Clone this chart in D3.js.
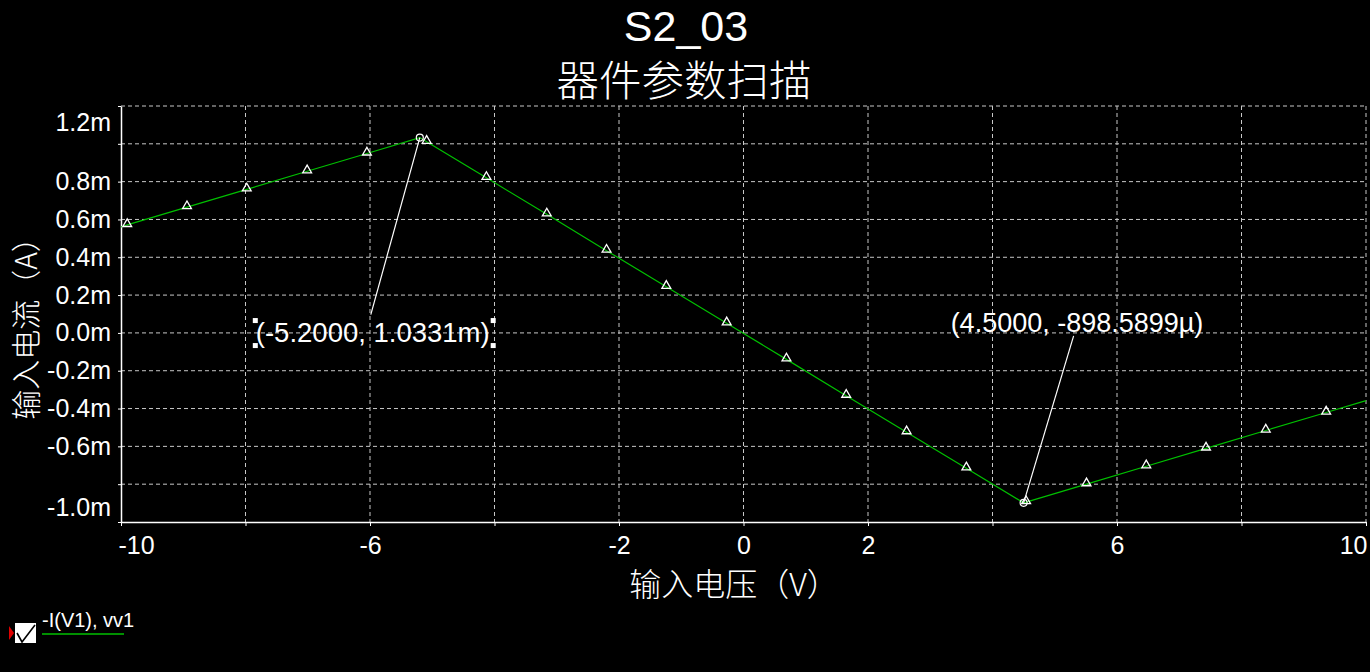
<!DOCTYPE html>
<html>
<head>
<meta charset="utf-8">
<script src="https://cdn.jsdelivr.net/npm/d3@7"></script>
<style>
  html, body { margin: 0; padding: 0; background: #000; }
  svg { display: block; }
</style>
</head>
<body>
<div id="chart"></div>
<script>
// sweep values: input voltage (V) and -I(V1) in mA
const sweepV = [-10, -9.90, -8.94, -7.98, -7.01, -6.05, -5.20, -5.09, -4.13, -3.16, -2.20, -1.24, -0.27,
                0.69, 1.65, 2.62, 3.58, 4.50, 4.54, 5.51, 6.47, 7.43, 8.39, 9.36, 10];
const sweepI = [0.560, 0.571, 0.665, 0.759, 0.855, 0.949, 1.0331, 1.011, 0.820, 0.627, 0.435, 0.244, 0.051,
                -0.140, -0.332, -0.525, -0.716, -0.8986, -0.895, -0.800, -0.705, -0.611, -0.516, -0.421, -0.358];

// triangle markers drawn on the trace
const markerV = [-9.90, -8.94, -7.98, -7.01, -6.05, -5.09, -4.13, -3.16, -2.20, -1.24, -0.27,
                 0.69, 1.65, 2.62, 3.58, 4.54, 5.51, 6.47, 7.43, 8.39, 9.36];
const markerI = [0.571, 0.665, 0.759, 0.855, 0.949, 1.011, 0.820, 0.627, 0.435, 0.244, 0.051,
                 -0.140, -0.332, -0.525, -0.716, -0.895, -0.800, -0.705, -0.611, -0.516, -0.421];

// cursors
const cursorV = [-5.2, 4.5];
const cursorI = [1.0331, -0.8986];
const cursorLabels = ["(-5.2000, 1.0331m)", "(4.5000, -898.5899\u00b5)"];

const xTicks = [-10, -8, -6, -4, -2, 0, 2, 4, 6, 8, 10];
const xTickLabels = ["-10", "", "-6", "", "-2", "0", "2", "", "6", "", "10"];
const yTicks = [-1.0, -0.8, -0.6, -0.4, -0.2, 0.0, 0.2, 0.4, 0.6, 0.8, 1.0, 1.2];
const yTickLabels = ["-1.0m", "", "-0.6m", "-0.4m", "-0.2m", "0.0m", "0.2m", "0.4m", "0.6m", "0.8m", "", "1.2m"];

const width = 1370, height = 672;
const margin = {top: 106, left: 121, right: 4, bottom: 150};

const latin = "'Liberation Sans', Arial, sans-serif";
const cjk = "'Noto Sans CJK SC', 'Noto Sans', sans-serif";

const svg = d3.select("#chart")
    .append("svg")
    .attr("width", width)
    .attr("height", height)
    .style("background", "#000");

const xScale = d3.scaleLinear()
    .domain([-10, 10])
    .range([margin.left, width - margin.right]);

const yScale = d3.scaleLinear()
    .domain([-1.0, 1.2])
    .range([height - margin.bottom, margin.top]);

// grid
const grid = svg.append("g");
grid.selectAll(".gx")
    .data(xTicks.slice(1))
    .join("line")
    .attr("x1", d => xScale(d)).attr("x2", d => xScale(d))
    .attr("y1", yScale(1.2)).attr("y2", yScale(-1.0))
    .attr("stroke", "#c8c8c8")
    .attr("stroke-dasharray", "4,3");
grid.selectAll(".gy")
    .data(yTicks.slice(1))
    .join("line")
    .attr("x1", xScale(-10)).attr("x2", xScale(10))
    .attr("y1", d => yScale(d)).attr("y2", d => yScale(d))
    .attr("stroke", "#c8c8c8")
    .attr("stroke-dasharray", "4,3");

// axes
const xAxis = svg.append("g")
    .attr("transform", `translate(0,${yScale(-1.0)})`)
    .call(d3.axisBottom(xScale)
        .tickValues(xTicks)
        .tickFormat((d, i) => xTickLabels[i])
        .tickSize(4)
        .tickPadding(10)
        .tickSizeOuter(0));

const yAxis = svg.append("g")
    .attr("transform", `translate(${xScale(-10)},0)`)
    .call(d3.axisLeft(yScale)
        .tickValues(yTicks)
        .tickFormat((d, i) => yTickLabels[i])
        .tickSize(3)
        .tickPadding(7)
        .tickSizeOuter(0));

[xAxis, yAxis].forEach(function(g) {
    g.select(".domain").attr("stroke", "#fff").attr("stroke-width", 1.5);
    g.selectAll(".tick line").attr("stroke", "#fff");
    g.selectAll(".tick text")
        .attr("fill", "#fff")
        .style("font-family", latin)
        .style("font-size", "25px");
});

// edge labels are pulled inside the plot
xAxis.selectAll(".tick text")
    .filter(d => d === -10).attr("text-anchor", "start").attr("dx", -3);
xAxis.selectAll(".tick text")
    .filter(d => d === 10).attr("text-anchor", "end").attr("dx", 1);
yAxis.selectAll(".tick text")
    .filter(d => d === 1.2).attr("dy", 24);
yAxis.selectAll(".tick text")
    .filter(d => d === -1.0).attr("dy", -7);

// trace
const points = sweepV.map((v, i) => [v, sweepI[i]]);
svg.append("path")
    .datum(points)
    .attr("fill", "none")
    .attr("stroke", "#00c000")
    .attr("stroke-width", 1.2)
    .attr("d", d3.line()
        .x(d => xScale(d[0]))
        .y(d => yScale(d[1])));

svg.append("g")
    .selectAll("path")
    .data(markerV.map((v, i) => [v, markerI[i]]))
    .join("path")
    .attr("transform", d => `translate(${xScale(d[0])},${yScale(d[1]) - 1})`)
    .attr("d", d3.symbol().type(d3.symbolTriangle).size(34))
    .attr("fill", "none")
    .attr("stroke", "#fff")
    .attr("stroke-width", 1.3);

// cursor annotations
const labelOffset = [{lx: -49, ly: 177, tx: -164, ty: 195, fs: 27.5}, {lx: 50, ly: -167, tx: -73, ty: -180, fs: 27}];
const cursors = cursorV.map((v, i) => ({v: v, i: cursorI[i], label: cursorLabels[i], off: labelOffset[i]}));

cursors.forEach(function(c) {
    const px = xScale(c.v), py = yScale(c.i);
    svg.append("line")
        .attr("x1", px).attr("y1", py)
        .attr("x2", px + c.off.lx).attr("y2", py + c.off.ly)
        .attr("stroke", "#fff")
        .attr("stroke-width", 1.2);
    svg.append("circle")
        .attr("cx", px).attr("cy", py).attr("r", 3.5)
        .attr("fill", "none")
        .attr("stroke", "#fff")
        .attr("stroke-width", 1.2);
    svg.append("text")
        .attr("x", px + c.off.tx)
        .attr("y", py + c.off.ty)
        .attr("dominant-baseline", "central")
        .attr("fill", "#fff")
        .style("font-family", latin)
        .style("font-size", c.off.fs + "px")
        .text(c.label);
});

// selection handles around the first cursor label
const lbl = svg.selectAll("text").filter(function() { return d3.select(this).text() === cursorLabels[0]; });
const bb = lbl.node().getBBox();
[[bb.x - 3, bb.y + 1], [bb.x - 3, bb.y + bb.height - 5], [bb.x + bb.width + 1, bb.y + 1], [bb.x + bb.width + 1, bb.y + bb.height - 5]]
    .forEach(function(p) {
        svg.append("rect").attr("x", p[0]).attr("y", p[1]).attr("width", 5).attr("height", 5).attr("fill", "#fff");
    });

// titles
svg.append("text")
    .attr("x", 686).attr("y", 41)
    .attr("text-anchor", "middle")
    .attr("fill", "#fff")
    .style("font-family", latin)
    .style("font-size", "43px")
    .text("S2_03");

svg.append("text")
    .attr("x", 684).attr("y", 77)
    .attr("text-anchor", "middle")
    .attr("dominant-baseline", "central")
    .attr("fill", "#fff")
    .style("font-family", cjk)
    .style("font-weight", 300)
    .style("font-size", "42.5px")
    .text("器件参数扫描");

svg.append("text")
    .attr("x", 734).attr("y", 582)
    .attr("text-anchor", "middle")
    .attr("dominant-baseline", "central")
    .attr("fill", "#fff")
    .style("font-family", cjk)
    .style("font-weight", 300)
    .style("font-size", "32px")
    .text("输入电压（V）");

svg.append("text")
    .attr("transform", "translate(24,321) rotate(-90)")
    .attr("text-anchor", "middle")
    .attr("dominant-baseline", "central")
    .attr("fill", "#fff")
    .style("font-family", cjk)
    .style("font-weight", 300)
    .style("font-size", "30px")
    .text("输入电流（A）");

// legend
const legend = svg.append("g").attr("transform", "translate(8,623)");
legend.append("path").attr("d", "M1,3L6,10L1,17Z").attr("fill", "#e00000");
legend.append("rect").attr("x", 7).attr("y", 0).attr("width", 21).attr("height", 20).attr("fill", "#fff");
legend.append("path").attr("d", "M9,10L14,19L27,2").attr("fill", "none").attr("stroke", "#000").attr("stroke-width", 1.6);
legend.append("text")
    .attr("x", 34).attr("y", 4)
    .attr("fill", "#fff")
    .style("font-family", latin)
    .style("font-size", "20px")
    .text("-I(V1), vv1");
legend.append("line")
    .attr("x1", 34).attr("x2", 116)
    .attr("y1", 11).attr("y2", 11)
    .attr("stroke", "#00c000")
    .attr("stroke-width", 1.5);
</script>
</body>
</html>
